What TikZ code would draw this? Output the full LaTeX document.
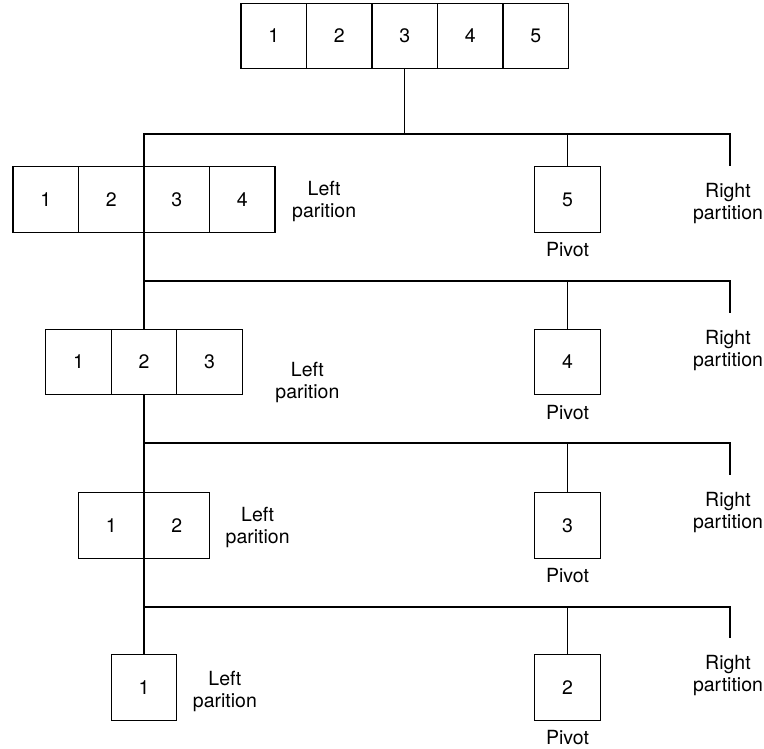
\documentclass[tikz,border=0pt]{standalone}
\usepackage{fontspec}
\setmainfont{TeX Gyre Heros}
\usetikzlibrary{positioning}
\tikzset{
  cellbox/.style={
    rectangle,
    draw=black,
    line width=1.4pt,
    minimum width=65.5pt,
    minimum height=65.5pt,
    inner sep=0pt,
    outer sep=0pt,
    font=\fontsize{19.5}{22}\selectfont
  },
  partlabel/.style={
    align=center,
    inner sep=0pt,
    font=\fontsize{19.5}{22}\selectfont
  },
  treeline/.style={
    line width=1.4pt
  }
}

\begin{document}
\begin{tikzpicture}[x=1pt, y=-1pt]
  \useasboundingbox (0,0) rectangle (764,749);

  % input array
  \node[cellbox] (t1) at (273.75,36) {1};
  \node[cellbox, right=0pt of t1] (t2) {2};
  \node[cellbox, right=0pt of t2] (t3) {3};
  \node[cellbox, right=0pt of t3] (t4) {4};
  \node[cellbox, right=0pt of t4] (t5) {5};

  % first split
  \node[cellbox] (a1) at (45.75,199.5) {1};
  \node[cellbox, right=0pt of a1] (a2) {2};
  \node[cellbox, right=0pt of a2] (a3) {3};
  \node[cellbox, right=0pt of a3] (a4) {4};
  \node[partlabel, right=17pt of a4, yshift=-2pt] (l1) {Left\\parition};
  \node[cellbox] (p5) at (567.5,199.5) {5};
  \node[partlabel, below=10pt of p5] (v5) {Pivot};
  \coordinate (e1) at (730,134);
  \coordinate (s1) at (730,166);
  \node[partlabel, below=17pt of s1, xshift=-2pt] (r1) {Right\\partition};

  % second split
  \node[cellbox] (b1) at (78.5,362) {1};
  \node[cellbox, right=0pt of b1] (b2) {2};
  \node[cellbox, right=0pt of b2] (b3) {3};
  \node[partlabel, right=33pt of b3, yshift=-20pt] (l2) {Left\\parition};
  \node[cellbox] (p4) at (567.5,362) {4};
  \node[partlabel, below=10pt of p4] (v4) {Pivot};
  \coordinate (e2) at (730,281);
  \coordinate (s2) at (730,313);
  \node[partlabel, below=17pt of s2, xshift=-2pt] (r2) {Right\\partition};

  % third split
  \node[cellbox] (c1) at (111.25,525.5) {1};
  \node[cellbox, right=0pt of c1] (c2) {2};
  \node[partlabel, right=16pt of c2, yshift=-2pt] (l3) {Left\\parition};
  \node[cellbox] (p3) at (567.5,525.5) {3};
  \node[partlabel, below=10pt of p3] (v3) {Pivot};
  \coordinate (e3) at (730,443);
  \coordinate (s3) at (730,475);
  \node[partlabel, below=17pt of s3, xshift=-2pt] (r3) {Right\\partition};

  % fourth split
  \node[cellbox] (d1) at (144,687.5) {1};
  \node[partlabel, right=16pt of d1, yshift=-4pt] (l4) {Left\\parition};
  \node[cellbox] (p2) at (567.5,687.5) {2};
  \node[partlabel, below=10pt of p2] (v2) {Pivot};
  \coordinate (e4) at (730,607);
  \coordinate (s4) at (730,638);
  \node[partlabel, below=17pt of s4, xshift=-2pt] (r4) {Right\\partition};

  % connectors
  \draw[treeline] (t3.south) -- (t3.south |- e1);
  \draw[treeline] (a2.north east) |- (e1) -- (s1);
  \draw[treeline] (p5.north) -- (p5.north |- e1);

  \draw[treeline] (a2.south east) -- (b2.north);
  \draw[treeline] (b2.north |- e2) -- (e2) -- (s2);
  \draw[treeline] (p4.north) -- (p4.north |- e2);

  \draw[treeline] (b2.south) -- (c1.north east);
  \draw[treeline] (c1.north east |- e3) -- (e3) -- (s3);
  \draw[treeline] (p3.north) -- (p3.north |- e3);

  \draw[treeline] (c1.south east) -- (d1.north);
  \draw[treeline] (d1.north |- e4) -- (e4) -- (s4);
  \draw[treeline] (p2.north) -- (p2.north |- e4);
\end{tikzpicture}
\end{document}
